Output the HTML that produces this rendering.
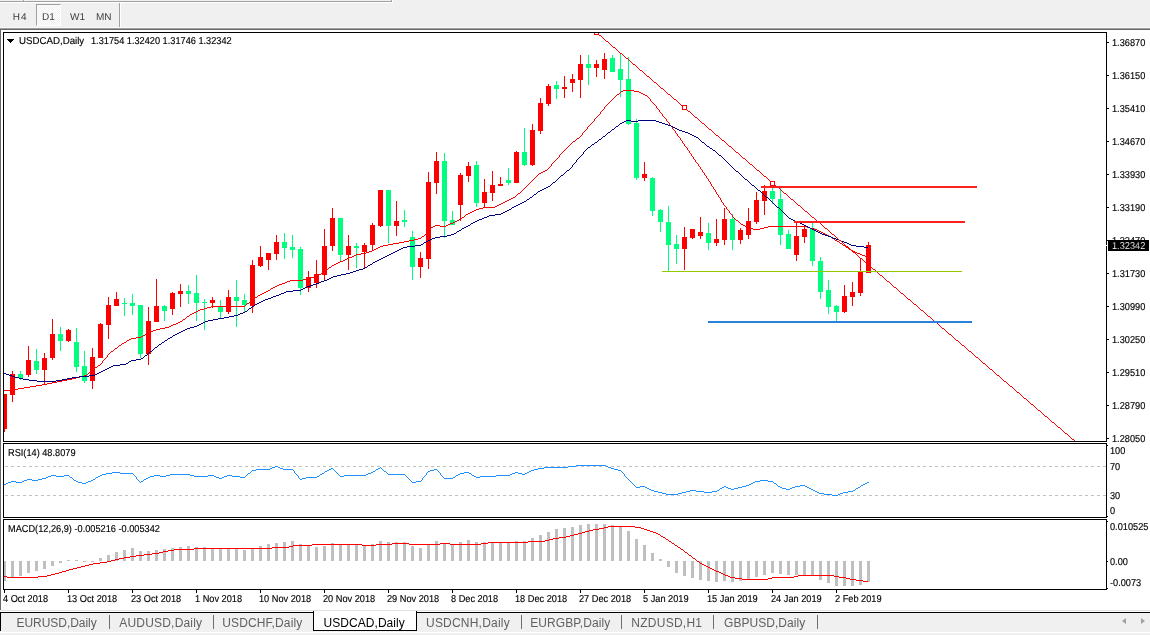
<!DOCTYPE html>
<html><head><meta charset="utf-8"><title>USDCAD,Daily</title>
<style>
html,body{margin:0;padding:0}
body{width:1150px;height:635px;position:relative;overflow:hidden;background:#f0f0f0;font-family:"Liberation Sans",Arial,sans-serif}
.abs{position:absolute}
.t{position:absolute;font-size:10px;line-height:11px;color:#000;white-space:nowrap;transform:scaleX(.92);transform-origin:0 0;-webkit-text-stroke:0.15px #000;text-rendering:geometricPrecision;margin-top:1px}
.tb{position:absolute;top:11px;font-size:10px;line-height:14px;color:#3c3c3c;text-rendering:geometricPrecision}
.tab{position:absolute;top:615px;font-size:12px;line-height:16px;color:#606060;white-space:nowrap}
.sep{position:absolute;top:615px;width:1px;height:14px;background:#6e6e6e}
svg{position:absolute;left:0;top:0}
</style></head><body>
<div class="abs" style="left:0;top:1px;width:391px;height:1px;background:#a0a0a0"></div>
<div class="abs" style="left:0;top:2px;width:392px;height:1px;background:#fff"></div>
<div class="abs" style="left:391px;top:0;width:1px;height:2px;background:#a0a0a0"></div>
<div class="abs" style="left:392px;top:0;width:1px;height:3px;background:#fff"></div>
<div class="abs" style="left:23px;top:0;width:1px;height:1px;background:#a0a0a0"></div>
<div class="abs" style="left:24px;top:0;width:1px;height:1px;background:#fff"></div>
<div class="abs" style="left:36px;top:4px;width:25px;height:22px;background:repeating-conic-gradient(#fff 0 25%,#f0f0f0 0 50%) 0 0/2px 2px;border-left:1px solid #a0a0a0;border-top:1px solid #a0a0a0;border-right:1px solid #fff;border-bottom:1px solid #fff;box-sizing:border-box"></div>
<div class="tb" style="left:12.7px;letter-spacing:1px">H4</div><div class="tb" style="left:42px">D1</div><div class="tb" style="left:70px">W1</div><div class="tb" style="left:96px">MN</div>
<div class="abs" style="left:119px;top:3px;width:1px;height:24px;background:#a0a0a0"></div>
<div class="abs" style="left:120px;top:3px;width:1px;height:24px;background:#fff"></div>
<div class="abs" style="left:0;top:27px;width:1150px;height:1px;background:#f8f8f8"></div>
<div class="abs" style="left:0;top:28px;width:1150px;height:1px;background:#a0a0a0"></div>
<div class="abs" style="left:0;top:29px;width:1150px;height:1px;background:#696969"></div>
<div class="abs" style="left:0;top:30px;width:1150px;height:580px;background:#fff"></div>
<div class="abs" style="left:0;top:29px;width:1px;height:581px;background:#696969"></div>
<div class="abs" style="left:0;top:610px;width:1150px;height:1px;background:#e3e3e3"></div>
<div class="abs" style="left:0;top:611px;width:1150px;height:1px;background:#fff"></div>
<div class="abs" style="left:0;top:612px;width:1150px;height:1px;background:#000"></div>
<div class="abs" style="left:0;top:612px;width:1px;height:19px;background:#000"></div>
<div class="abs" style="left:0;top:632px;width:1150px;height:1px;background:#fff"></div>
<div class="abs" style="left:313px;top:611px;width:104px;height:20px;background:#fff;border:1px solid #000;border-top:none;box-sizing:border-box"></div>
<div class="tab" style="left:323.6px;color:#000;letter-spacing:0.04px">USDCAD,Daily</div>
<div class="tab" style="left:16.5px;letter-spacing:-0.04px">EURUSD,Daily</div><div class="tab" style="left:119.3px;letter-spacing:0.19px">AUDUSD,Daily</div><div class="tab" style="left:222.3px;letter-spacing:0.11px">USDCHF,Daily</div><div class="tab" style="left:426px;letter-spacing:0.21px">USDCNH,Daily</div><div class="tab" style="left:530.3px;letter-spacing:0.07px">EURGBP,Daily</div><div class="tab" style="left:631.3px;letter-spacing:0.25px">NZDUSD,H1</div><div class="tab" style="left:724px;letter-spacing:0.05px">GBPUSD,Daily</div><div class="sep" style="left:109px"></div><div class="sep" style="left:213px"></div><div class="sep" style="left:521px"></div><div class="sep" style="left:621px"></div><div class="sep" style="left:713px"></div><div class="sep" style="left:817px"></div>
<div class="abs" style="left:1122px;top:618px;width:0;height:0;border-top:3px solid transparent;border-bottom:3px solid transparent;border-right:4px solid #a0a0a0"></div>
<div class="abs" style="left:1141px;top:618px;width:0;height:0;border-top:3px solid transparent;border-bottom:3px solid transparent;border-left:4px solid #a0a0a0"></div>
<svg width="1150" height="635" viewBox="0 0 1150 635">
<g stroke="#c0c0c0" stroke-width="1" stroke-dasharray="3 3" shape-rendering="crispEdges"><line x1="5" y1="466.5" x2="1106" y2="466.5"/><line x1="5" y1="495.5" x2="1106" y2="495.5"/></g>
<g fill="#c0c0c0" shape-rendering="crispEdges" clip-path="url(#cp)"><rect x="3" y="561" width="3" height="20"/><rect x="11" y="561" width="3" height="16"/><rect x="19" y="561" width="3" height="15"/><rect x="27" y="561" width="3" height="12"/><rect x="35" y="561" width="3" height="10"/><rect x="43" y="561" width="3" height="8"/><rect x="51" y="561" width="3" height="5"/><rect x="59" y="561" width="3" height="2"/><rect x="67" y="560" width="3" height="1"/><rect x="75" y="560" width="3" height="1"/><rect x="83" y="561" width="3" height="1"/><rect x="91" y="561" width="3" height="1"/><rect x="99" y="558" width="3" height="3"/><rect x="107" y="555" width="3" height="6"/><rect x="115" y="552" width="3" height="9"/><rect x="123" y="550" width="3" height="11"/><rect x="131" y="548" width="3" height="13"/><rect x="139" y="551" width="3" height="10"/><rect x="147" y="551" width="3" height="10"/><rect x="155" y="550" width="3" height="11"/><rect x="163" y="549" width="3" height="12"/><rect x="171" y="548" width="3" height="13"/><rect x="179" y="547" width="3" height="14"/><rect x="187" y="546" width="3" height="15"/><rect x="195" y="547" width="3" height="14"/><rect x="203" y="547" width="3" height="14"/><rect x="211" y="548" width="3" height="13"/><rect x="219" y="549" width="3" height="12"/><rect x="227" y="549" width="3" height="12"/><rect x="235" y="548" width="3" height="13"/><rect x="243" y="550" width="3" height="11"/><rect x="251" y="548" width="3" height="13"/><rect x="259" y="546" width="3" height="15"/><rect x="267" y="544" width="3" height="17"/><rect x="275" y="543" width="3" height="18"/><rect x="283" y="542" width="3" height="19"/><rect x="291" y="541" width="3" height="20"/><rect x="299" y="544" width="3" height="17"/><rect x="307" y="545" width="3" height="16"/><rect x="315" y="547" width="3" height="14"/><rect x="323" y="546" width="3" height="15"/><rect x="331" y="543" width="3" height="18"/><rect x="339" y="544" width="3" height="17"/><rect x="347" y="544" width="3" height="17"/><rect x="355" y="544" width="3" height="17"/><rect x="363" y="545" width="3" height="16"/><rect x="371" y="544" width="3" height="17"/><rect x="379" y="541" width="3" height="20"/><rect x="387" y="542" width="3" height="19"/><rect x="395" y="542" width="3" height="19"/><rect x="403" y="542" width="3" height="19"/><rect x="411" y="546" width="3" height="15"/><rect x="419" y="548" width="3" height="13"/><rect x="427" y="545" width="3" height="16"/><rect x="435" y="541" width="3" height="20"/><rect x="443" y="543" width="3" height="18"/><rect x="451" y="545" width="3" height="16"/><rect x="459" y="542" width="3" height="19"/><rect x="467" y="540" width="3" height="21"/><rect x="475" y="542" width="3" height="19"/><rect x="483" y="542" width="3" height="19"/><rect x="491" y="542" width="3" height="19"/><rect x="499" y="542" width="3" height="19"/><rect x="507" y="542" width="3" height="19"/><rect x="515" y="541" width="3" height="20"/><rect x="523" y="541" width="3" height="20"/><rect x="531" y="538" width="3" height="23"/><rect x="539" y="535" width="3" height="26"/><rect x="547" y="532" width="3" height="29"/><rect x="555" y="529" width="3" height="32"/><rect x="563" y="528" width="3" height="33"/><rect x="571" y="527" width="3" height="34"/><rect x="579" y="525" width="3" height="36"/><rect x="587" y="524" width="3" height="37"/><rect x="595" y="524" width="3" height="37"/><rect x="603" y="524" width="3" height="37"/><rect x="611" y="525" width="3" height="36"/><rect x="619" y="526" width="3" height="35"/><rect x="627" y="531" width="3" height="30"/><rect x="635" y="539" width="3" height="22"/><rect x="643" y="545" width="3" height="16"/><rect x="651" y="553" width="3" height="8"/><rect x="659" y="559" width="3" height="2"/><rect x="667" y="561" width="3" height="6"/><rect x="675" y="561" width="3" height="12"/><rect x="683" y="561" width="3" height="15"/><rect x="691" y="561" width="3" height="17"/><rect x="699" y="561" width="3" height="19"/><rect x="707" y="561" width="3" height="20"/><rect x="715" y="561" width="3" height="21"/><rect x="723" y="561" width="3" height="20"/><rect x="731" y="561" width="3" height="21"/><rect x="739" y="561" width="3" height="20"/><rect x="747" y="561" width="3" height="18"/><rect x="755" y="561" width="3" height="16"/><rect x="763" y="561" width="3" height="14"/><rect x="771" y="561" width="3" height="12"/><rect x="779" y="561" width="3" height="13"/><rect x="787" y="561" width="3" height="14"/><rect x="795" y="561" width="3" height="14"/><rect x="803" y="561" width="3" height="14"/><rect x="811" y="561" width="3" height="15"/><rect x="819" y="561" width="3" height="19"/><rect x="827" y="561" width="3" height="22"/><rect x="835" y="561" width="3" height="25"/><rect x="843" y="561" width="3" height="25"/><rect x="851" y="561" width="3" height="25"/><rect x="859" y="561" width="3" height="24"/><rect x="867" y="561" width="3" height="21"/></g>
<defs><clipPath id="cp"><rect x="4" y="33" width="1102" height="556"/></clipPath></defs>
<g fill="#00ff7f" shape-rendering="crispEdges" clip-path="url(#cp)"><rect x="20" y="371" width="1" height="9"/><rect x="18" y="374" width="5" height="4"/><rect x="36" y="349" width="1" height="25"/><rect x="34" y="361" width="5" height="9"/><rect x="60" y="327" width="1" height="24"/><rect x="58" y="334" width="5" height="7"/><rect x="76" y="328" width="1" height="44"/><rect x="74" y="342" width="5" height="25"/><rect x="84" y="351" width="1" height="32"/><rect x="82" y="366" width="5" height="15"/><rect x="124" y="298" width="1" height="18"/><rect x="122" y="303" width="5" height="1"/><rect x="132" y="294" width="1" height="21"/><rect x="130" y="303" width="5" height="3"/><rect x="140" y="305" width="1" height="53"/><rect x="138" y="305" width="5" height="49"/><rect x="164" y="305" width="1" height="16"/><rect x="162" y="306" width="5" height="5"/><rect x="188" y="285" width="1" height="19"/><rect x="186" y="291" width="5" height="3"/><rect x="196" y="275" width="1" height="46"/><rect x="194" y="293" width="5" height="10"/><rect x="204" y="299" width="1" height="31"/><rect x="202" y="302" width="5" height="1"/><rect x="220" y="300" width="1" height="19"/><rect x="218" y="307" width="5" height="5"/><rect x="236" y="280" width="1" height="47"/><rect x="234" y="297" width="5" height="4"/><rect x="244" y="294" width="1" height="18"/><rect x="242" y="300" width="5" height="5"/><rect x="284" y="233" width="1" height="26"/><rect x="282" y="242" width="5" height="6"/><rect x="292" y="235" width="1" height="23"/><rect x="290" y="247" width="5" height="3"/><rect x="300" y="247" width="1" height="48"/><rect x="298" y="249" width="5" height="39"/><rect x="340" y="218" width="1" height="43"/><rect x="338" y="218" width="5" height="37"/><rect x="356" y="243" width="1" height="25"/><rect x="354" y="246" width="5" height="2"/><rect x="388" y="190" width="1" height="53"/><rect x="386" y="190" width="5" height="36"/><rect x="404" y="210" width="1" height="17"/><rect x="402" y="220" width="5" height="2"/><rect x="412" y="231" width="1" height="49"/><rect x="410" y="237" width="5" height="30"/><rect x="444" y="153" width="1" height="85"/><rect x="442" y="161" width="5" height="60"/><rect x="452" y="211" width="1" height="14"/><rect x="450" y="220" width="5" height="5"/><rect x="476" y="161" width="1" height="46"/><rect x="474" y="165" width="5" height="38"/><rect x="508" y="168" width="1" height="17"/><rect x="506" y="180" width="5" height="3"/><rect x="524" y="128" width="1" height="38"/><rect x="522" y="152" width="5" height="13"/><rect x="556" y="81" width="1" height="18"/><rect x="554" y="85" width="5" height="4"/><rect x="588" y="55" width="1" height="30"/><rect x="586" y="64" width="5" height="4"/><rect x="612" y="55" width="1" height="17"/><rect x="610" y="58" width="5" height="14"/><rect x="620" y="54" width="1" height="43"/><rect x="618" y="69" width="5" height="11"/><rect x="628" y="57" width="1" height="68"/><rect x="626" y="79" width="5" height="45"/><rect x="636" y="119" width="1" height="61"/><rect x="634" y="123" width="5" height="55"/><rect x="652" y="177" width="1" height="39"/><rect x="650" y="178" width="5" height="33"/><rect x="660" y="209" width="1" height="23"/><rect x="658" y="210" width="5" height="12"/><rect x="668" y="206" width="1" height="65"/><rect x="666" y="222" width="5" height="23"/><rect x="676" y="235" width="1" height="29"/><rect x="674" y="244" width="5" height="5"/><rect x="708" y="223" width="1" height="27"/><rect x="706" y="233" width="5" height="10"/><rect x="732" y="214" width="1" height="36"/><rect x="730" y="219" width="5" height="21"/><rect x="772" y="186" width="1" height="18"/><rect x="770" y="191" width="5" height="8"/><rect x="780" y="188" width="1" height="57"/><rect x="778" y="199" width="5" height="36"/><rect x="788" y="230" width="1" height="19"/><rect x="786" y="234" width="5" height="15"/><rect x="812" y="223" width="1" height="43"/><rect x="810" y="228" width="5" height="33"/><rect x="820" y="257" width="1" height="42"/><rect x="818" y="261" width="5" height="31"/><rect x="828" y="280" width="1" height="34"/><rect x="826" y="290" width="5" height="17"/><rect x="836" y="305" width="1" height="16"/><rect x="834" y="306" width="5" height="6"/></g>
<g fill="#ff0000" shape-rendering="crispEdges" clip-path="url(#cp)"><rect x="4" y="394" width="1" height="38"/><rect x="2" y="394" width="5" height="35"/><rect x="12" y="371" width="1" height="31"/><rect x="10" y="374" width="5" height="21"/><rect x="28" y="346" width="1" height="31"/><rect x="26" y="360" width="5" height="15"/><rect x="44" y="353" width="1" height="31"/><rect x="42" y="358" width="5" height="12"/><rect x="52" y="319" width="1" height="41"/><rect x="50" y="334" width="5" height="24"/><rect x="68" y="329" width="1" height="13"/><rect x="66" y="330" width="5" height="11"/><rect x="92" y="348" width="1" height="41"/><rect x="90" y="357" width="5" height="24"/><rect x="100" y="323" width="1" height="35"/><rect x="98" y="324" width="5" height="34"/><rect x="108" y="297" width="1" height="42"/><rect x="106" y="305" width="5" height="20"/><rect x="116" y="292" width="1" height="14"/><rect x="114" y="299" width="5" height="7"/><rect x="148" y="307" width="1" height="58"/><rect x="146" y="321" width="5" height="33"/><rect x="156" y="279" width="1" height="43"/><rect x="154" y="306" width="5" height="16"/><rect x="172" y="292" width="1" height="23"/><rect x="170" y="293" width="5" height="16"/><rect x="180" y="284" width="1" height="23"/><rect x="178" y="291" width="5" height="3"/><rect x="212" y="297" width="1" height="11"/><rect x="210" y="300" width="5" height="3"/><rect x="228" y="290" width="1" height="24"/><rect x="226" y="297" width="5" height="15"/><rect x="252" y="260" width="1" height="53"/><rect x="250" y="265" width="5" height="41"/><rect x="260" y="246" width="1" height="21"/><rect x="258" y="257" width="5" height="9"/><rect x="268" y="253" width="1" height="17"/><rect x="266" y="253" width="5" height="7"/><rect x="276" y="235" width="1" height="25"/><rect x="274" y="242" width="5" height="12"/><rect x="308" y="271" width="1" height="21"/><rect x="306" y="277" width="5" height="11"/><rect x="316" y="260" width="1" height="28"/><rect x="314" y="274" width="5" height="9"/><rect x="324" y="229" width="1" height="52"/><rect x="322" y="246" width="5" height="29"/><rect x="332" y="208" width="1" height="43"/><rect x="330" y="218" width="5" height="28"/><rect x="348" y="235" width="1" height="35"/><rect x="346" y="246" width="5" height="9"/><rect x="364" y="243" width="1" height="25"/><rect x="362" y="245" width="5" height="7"/><rect x="372" y="223" width="1" height="27"/><rect x="370" y="225" width="5" height="20"/><rect x="380" y="190" width="1" height="37"/><rect x="378" y="190" width="5" height="36"/><rect x="396" y="201" width="1" height="35"/><rect x="394" y="221" width="5" height="5"/><rect x="420" y="252" width="1" height="26"/><rect x="418" y="258" width="5" height="9"/><rect x="428" y="172" width="1" height="97"/><rect x="426" y="182" width="5" height="77"/><rect x="436" y="152" width="1" height="42"/><rect x="434" y="161" width="5" height="22"/><rect x="460" y="173" width="1" height="48"/><rect x="458" y="175" width="5" height="30"/><rect x="468" y="162" width="1" height="20"/><rect x="466" y="166" width="5" height="10"/><rect x="484" y="179" width="1" height="28"/><rect x="482" y="192" width="5" height="11"/><rect x="492" y="171" width="1" height="30"/><rect x="490" y="185" width="5" height="8"/><rect x="500" y="177" width="1" height="9"/><rect x="498" y="184" width="5" height="2"/><rect x="516" y="151" width="1" height="32"/><rect x="514" y="152" width="5" height="31"/><rect x="532" y="124" width="1" height="42"/><rect x="530" y="130" width="5" height="35"/><rect x="540" y="98" width="1" height="36"/><rect x="538" y="103" width="5" height="28"/><rect x="548" y="84" width="1" height="22"/><rect x="546" y="86" width="5" height="18"/><rect x="564" y="76" width="1" height="22"/><rect x="562" y="87" width="5" height="2"/><rect x="572" y="74" width="1" height="18"/><rect x="570" y="79" width="5" height="4"/><rect x="580" y="55" width="1" height="43"/><rect x="578" y="64" width="5" height="16"/><rect x="596" y="60" width="1" height="17"/><rect x="594" y="64" width="5" height="4"/><rect x="604" y="53" width="1" height="26"/><rect x="602" y="59" width="5" height="11"/><rect x="644" y="162" width="1" height="19"/><rect x="642" y="174" width="5" height="4"/><rect x="684" y="227" width="1" height="43"/><rect x="682" y="237" width="5" height="12"/><rect x="692" y="229" width="1" height="10"/><rect x="690" y="229" width="5" height="9"/><rect x="700" y="217" width="1" height="22"/><rect x="698" y="232" width="5" height="4"/><rect x="716" y="219" width="1" height="27"/><rect x="714" y="239" width="5" height="4"/><rect x="724" y="208" width="1" height="37"/><rect x="722" y="219" width="5" height="21"/><rect x="740" y="228" width="1" height="16"/><rect x="738" y="230" width="5" height="10"/><rect x="748" y="208" width="1" height="31"/><rect x="746" y="221" width="5" height="14"/><rect x="756" y="192" width="1" height="32"/><rect x="754" y="200" width="5" height="22"/><rect x="764" y="185" width="1" height="30"/><rect x="762" y="191" width="5" height="10"/><rect x="796" y="223" width="1" height="38"/><rect x="794" y="236" width="5" height="19"/><rect x="804" y="226" width="1" height="17"/><rect x="802" y="229" width="5" height="8"/><rect x="844" y="285" width="1" height="28"/><rect x="842" y="296" width="5" height="16"/><rect x="852" y="282" width="1" height="24"/><rect x="850" y="292" width="5" height="5"/><rect x="860" y="258" width="1" height="38"/><rect x="858" y="271" width="5" height="22"/><rect x="868" y="242" width="1" height="31"/><rect x="866" y="245" width="5" height="28"/></g>
<path d="M623 90.5h11M621 91.5h2M634 91.5h5M620 92.5h1M639 92.5h2M619 93.5h1M641 93.5h2M617 94.5h2M643 94.5h2M616 95.5h1M645 95.5h2M615 96.5h1M647 96.5h1M614 97.5h1M648 97.5h1M613 98.5h1M649 98.5h1M612 99.5h1M650 99.5h1M611 100.5h1M650 100.5h1M610 101.5h1M651 101.5h1M609 102.5h1M652 102.5h1M608 103.5h1M653 103.5h1M607 104.5h1M654 104.5h1M606 105.5h1M655 105.5h1M605 106.5h1M656 106.5h1M604 107.5h1M656 107.5h1M604 108.5h1M657 108.5h1M603 109.5h1M658 109.5h1M602 110.5h1M659 110.5h1M601 111.5h1M659 111.5h1M600 112.5h1M660 112.5h1M600 113.5h1M661 113.5h1M599 114.5h1M662 114.5h1M598 115.5h1M662 115.5h1M597 116.5h1M663 116.5h1M596 117.5h1M664 117.5h1M595 118.5h1M665 118.5h1M594 119.5h1M666 119.5h1M594 120.5h1M666 120.5h1M593 121.5h1M667 121.5h1M592 122.5h1M668 122.5h1M591 123.5h1M669 123.5h1M590 124.5h1M669 124.5h1M589 125.5h1M670 125.5h1M588 126.5h1M671 126.5h1M587 127.5h1M672 127.5h1M587 128.5h1M672 128.5h1M586 129.5h1M673 129.5h1M585 130.5h1M674 130.5h1M584 131.5h1M675 131.5h1M583 132.5h1M675 132.5h1M582 133.5h1M676 133.5h1M582 134.5h1M677 134.5h1M581 135.5h1M677 135.5h1M580 136.5h1M678 136.5h1M579 137.5h1M679 137.5h1M577 138.5h2M680 138.5h1M576 139.5h1M680 139.5h1M575 140.5h1M681 140.5h1M573 141.5h2M682 141.5h1M572 142.5h1M682 142.5h1M571 143.5h1M683 143.5h1M570 144.5h1M684 144.5h1M569 145.5h1M684 145.5h1M568 146.5h1M685 146.5h1M567 147.5h1M686 147.5h1M566 148.5h1M687 148.5h1M565 149.5h1M687 149.5h1M564 150.5h1M688 150.5h1M563 151.5h1M689 151.5h1M562 152.5h1M689 152.5h1M561 153.5h1M690 153.5h1M560 154.5h1M691 154.5h1M559 155.5h1M691 155.5h1M559 156.5h1M692 156.5h1M558 157.5h1M693 157.5h1M557 158.5h1M693 158.5h1M556 159.5h1M694 159.5h1M555 160.5h1M695 160.5h1M554 161.5h1M695 161.5h1M553 162.5h1M696 162.5h1M552 163.5h1M697 163.5h1M551 164.5h1M698 164.5h1M551 165.5h1M698 165.5h1M550 166.5h1M699 166.5h1M549 167.5h1M700 167.5h1M548 168.5h1M700 168.5h1M547 169.5h1M701 169.5h1M545 170.5h2M702 170.5h1M543 171.5h2M702 171.5h1M541 172.5h2M703 172.5h1M539 173.5h2M704 173.5h1M538 174.5h1M704 174.5h1M537 175.5h1M705 175.5h1M536 176.5h1M706 176.5h1M535 177.5h1M706 177.5h1M534 178.5h1M707 178.5h1M533 179.5h1M708 179.5h1M532 180.5h1M708 180.5h1M531 181.5h1M709 181.5h1M530 182.5h1M710 182.5h1M529 183.5h1M710 183.5h1M528 184.5h1M711 184.5h1M527 185.5h1M711 185.5h1M526 186.5h1M712 186.5h1M525 187.5h1M713 187.5h1M524 188.5h1M713 188.5h1M523 189.5h1M714 189.5h1M522 190.5h1M715 190.5h1M521 191.5h1M715 191.5h1M520 192.5h1M716 192.5h1M518 193.5h2M716 193.5h1M517 194.5h1M717 194.5h1M516 195.5h1M718 195.5h1M515 196.5h1M718 196.5h1M513 197.5h2M719 197.5h1M511 198.5h2M720 198.5h1M509 199.5h2M720 199.5h1M507 200.5h2M721 200.5h1M505 201.5h2M721 201.5h1M503 202.5h2M722 202.5h1M501 203.5h2M723 203.5h1M499 204.5h2M723 204.5h1M497 205.5h2M724 205.5h1M495 206.5h2M725 206.5h1M483 207.5h12M726 207.5h1M479 208.5h4M726 208.5h1M476 209.5h3M727 209.5h1M474 210.5h2M728 210.5h1M472 211.5h2M729 211.5h1M470 212.5h2M729 212.5h1M468 213.5h2M730 213.5h1M466 214.5h2M731 214.5h1M465 215.5h1M732 215.5h1M464 216.5h1M732 216.5h1M462 217.5h2M733 217.5h1M461 218.5h1M734 218.5h1M459 219.5h2M735 219.5h1M457 220.5h2M736 220.5h2M455 221.5h2M738 221.5h1M453 222.5h2M739 222.5h1M450 223.5h3M740 223.5h1M448 224.5h2M741 224.5h2M435 225.5h5M446 225.5h2M743 225.5h2M433 226.5h2M440 226.5h6M745 226.5h2M768 226.5h39M431 227.5h2M747 227.5h2M764 227.5h4M807 227.5h3M430 228.5h1M749 228.5h4M760 228.5h4M810 228.5h4M429 229.5h1M753 229.5h7M814 229.5h3M428 230.5h1M817 230.5h2M428 231.5h1M819 231.5h2M427 232.5h1M821 232.5h2M426 233.5h1M823 233.5h2M425 234.5h1M825 234.5h2M424 235.5h1M827 235.5h2M422 236.5h2M829 236.5h2M421 237.5h1M831 237.5h1M418 238.5h3M832 238.5h2M414 239.5h4M834 239.5h1M409 240.5h5M835 240.5h2M404 241.5h5M837 241.5h2M399 242.5h5M839 242.5h1M393 243.5h6M840 243.5h2M388 244.5h5M842 244.5h1M383 245.5h5M843 245.5h2M380 246.5h3M845 246.5h1M378 247.5h2M846 247.5h2M376 248.5h2M848 248.5h1M374 249.5h2M849 249.5h2M372 250.5h2M851 250.5h2M369 251.5h3M853 251.5h2M366 252.5h3M855 252.5h2M361 253.5h5M857 253.5h3M356 254.5h5M860 254.5h2M354 255.5h2M862 255.5h3M352 256.5h2M865 256.5h2M349 257.5h3M867 257.5h2M347 258.5h2M345 259.5h2M343 260.5h2M340 261.5h3M338 262.5h2M336 263.5h2M334 264.5h2M332 265.5h2M331 266.5h1M329 267.5h2M328 268.5h1M327 269.5h1M325 270.5h2M324 271.5h1M323 272.5h1M321 273.5h2M319 274.5h2M316 275.5h3M314 276.5h2M311 277.5h3M307 278.5h4M303 279.5h4M290 280.5h13M287 281.5h3M285 282.5h2M282 283.5h3M279 284.5h3M277 285.5h2M275 286.5h2M273 287.5h2M271 288.5h2M270 289.5h1M268 290.5h2M266 291.5h2M264 292.5h2M262 293.5h2M260 294.5h2M258 295.5h2M257 296.5h1M255 297.5h2M254 298.5h1M253 299.5h1M251 300.5h2M250 301.5h1M249 302.5h1M247 303.5h2M246 304.5h1M245 305.5h1M211 306.5h34M207 307.5h4M204 308.5h3M200 309.5h4M198 310.5h2M196 311.5h2M194 312.5h2M192 313.5h2M190 314.5h2M189 315.5h1M187 316.5h2M186 317.5h1M185 318.5h1M183 319.5h2M182 320.5h1M180 321.5h2M178 322.5h2M176 323.5h2M173 324.5h3M171 325.5h2M169 326.5h2M165 327.5h4M160 328.5h5M156 329.5h4M153 330.5h3M151 331.5h2M149 332.5h2M147 333.5h2M145 334.5h2M143 335.5h2M141 336.5h2M136 337.5h5M131 338.5h5M129 339.5h2M127 340.5h2M126 341.5h1M124 342.5h2M122 343.5h2M121 344.5h1M119 345.5h2M118 346.5h1M117 347.5h1M115 348.5h2M114 349.5h1M113 350.5h1M111 351.5h2M110 352.5h1M109 353.5h1M108 354.5h1M107 355.5h1M107 356.5h1M106 357.5h1M105 358.5h1M104 359.5h1M103 360.5h1M102 361.5h1M102 362.5h1M101 363.5h1M100 364.5h1M98 365.5h2M97 366.5h1M95 367.5h2M94 368.5h1M93 369.5h1M92 370.5h1M90 371.5h2M89 372.5h1M88 373.5h1M87 374.5h1M84 375.5h3M80 376.5h4M76 377.5h4M72 378.5h4M67 379.5h5M62 380.5h5M57 381.5h5M52 382.5h5M47 383.5h5M42 384.5h5M36 385.5h6M30 386.5h6M24 387.5h6M18 388.5h6M13 389.5h5M4 390.5h9" stroke="#ff0000" stroke-width="1" fill="none" shape-rendering="crispEdges"/>
<path d="M626 120.5h5M638 120.5h18M624 121.5h2M631 121.5h7M656 121.5h3M622 122.5h2M659 122.5h3M620 123.5h2M662 123.5h3M619 124.5h1M665 124.5h3M618 125.5h1M668 125.5h3M616 126.5h2M671 126.5h2M615 127.5h1M673 127.5h2M614 128.5h1M675 128.5h2M612 129.5h2M677 129.5h2M611 130.5h1M679 130.5h3M610 131.5h1M682 131.5h3M608 132.5h2M685 132.5h3M607 133.5h1M688 133.5h2M606 134.5h1M690 134.5h2M605 135.5h1M692 135.5h2M603 136.5h2M694 136.5h2M602 137.5h1M696 137.5h2M601 138.5h1M698 138.5h1M599 139.5h2M699 139.5h1M598 140.5h1M700 140.5h1M597 141.5h1M701 141.5h1M595 142.5h2M702 142.5h2M594 143.5h1M704 143.5h1M592 144.5h2M705 144.5h1M591 145.5h1M706 145.5h1M590 146.5h1M707 146.5h2M588 147.5h2M709 147.5h1M587 148.5h1M710 148.5h2M586 149.5h1M712 149.5h1M585 150.5h1M713 150.5h2M584 151.5h1M715 151.5h1M583 152.5h1M716 152.5h1M583 153.5h1M717 153.5h1M582 154.5h1M718 154.5h1M581 155.5h1M719 155.5h2M580 156.5h1M721 156.5h1M579 157.5h1M722 157.5h1M578 158.5h1M723 158.5h1M577 159.5h1M724 159.5h1M576 160.5h1M725 160.5h1M576 161.5h1M726 161.5h1M575 162.5h1M727 162.5h1M574 163.5h1M728 163.5h1M573 164.5h1M729 164.5h1M572 165.5h1M730 165.5h1M572 166.5h1M731 166.5h1M571 167.5h1M732 167.5h1M570 168.5h1M733 168.5h1M569 169.5h1M734 169.5h1M567 170.5h2M735 170.5h1M566 171.5h1M736 171.5h2M565 172.5h1M738 172.5h1M564 173.5h1M739 173.5h1M563 174.5h1M740 174.5h1M561 175.5h2M741 175.5h1M560 176.5h1M742 176.5h1M559 177.5h1M743 177.5h1M558 178.5h1M744 178.5h1M557 179.5h1M745 179.5h2M556 180.5h1M747 180.5h1M555 181.5h1M748 181.5h1M553 182.5h2M749 182.5h1M552 183.5h1M750 183.5h1M551 184.5h1M751 184.5h1M550 185.5h1M752 185.5h2M548 186.5h2M754 186.5h1M546 187.5h2M755 187.5h1M544 188.5h2M756 188.5h1M542 189.5h2M757 189.5h1M540 190.5h2M758 190.5h2M538 191.5h2M760 191.5h1M537 192.5h1M761 192.5h1M536 193.5h1M762 193.5h1M534 194.5h2M763 194.5h1M533 195.5h1M764 195.5h1M532 196.5h1M765 196.5h1M530 197.5h2M766 197.5h2M529 198.5h1M768 198.5h1M527 199.5h2M769 199.5h1M526 200.5h1M770 200.5h1M524 201.5h2M771 201.5h1M522 202.5h2M772 202.5h1M520 203.5h2M773 203.5h1M518 204.5h2M774 204.5h1M516 205.5h2M775 205.5h1M514 206.5h2M776 206.5h1M512 207.5h2M777 207.5h2M511 208.5h1M779 208.5h1M509 209.5h2M780 209.5h1M507 210.5h2M781 210.5h1M505 211.5h2M782 211.5h1M503 212.5h2M783 212.5h1M501 213.5h2M784 213.5h1M495 214.5h6M785 214.5h1M489 215.5h6M786 215.5h1M487 216.5h2M787 216.5h1M484 217.5h3M788 217.5h1M482 218.5h2M789 218.5h2M479 219.5h3M791 219.5h2M477 220.5h2M793 220.5h2M475 221.5h2M795 221.5h2M473 222.5h2M797 222.5h3M471 223.5h2M800 223.5h2M470 224.5h1M802 224.5h2M468 225.5h2M804 225.5h2M466 226.5h2M806 226.5h2M464 227.5h2M808 227.5h2M462 228.5h2M810 228.5h2M461 229.5h1M812 229.5h2M459 230.5h2M814 230.5h2M457 231.5h2M816 231.5h2M456 232.5h1M818 232.5h2M454 233.5h2M820 233.5h2M451 234.5h3M822 234.5h3M447 235.5h4M825 235.5h3M440 236.5h7M828 236.5h3M435 237.5h5M831 237.5h2M432 238.5h3M833 238.5h3M430 239.5h2M836 239.5h3M428 240.5h2M839 240.5h2M426 241.5h2M841 241.5h3M424 242.5h2M844 242.5h3M423 243.5h1M847 243.5h2M421 244.5h2M849 244.5h2M415 245.5h6M851 245.5h5M407 246.5h8M856 246.5h8M403 247.5h4M864 247.5h4M401 248.5h2M399 249.5h2M397 250.5h2M395 251.5h2M393 252.5h2M391 253.5h2M389 254.5h2M387 255.5h2M385 256.5h2M383 257.5h2M381 258.5h2M379 259.5h2M377 260.5h2M375 261.5h2M373 262.5h2M372 263.5h1M370 264.5h2M368 265.5h2M367 266.5h1M365 267.5h2M363 268.5h2M359 269.5h4M356 270.5h3M353 271.5h3M350 272.5h3M346 273.5h4M341 274.5h5M337 275.5h4M333 276.5h4M331 277.5h2M329 278.5h2M327 279.5h2M324 280.5h3M321 281.5h3M319 282.5h2M316 283.5h3M313 284.5h3M310 285.5h3M307 286.5h3M305 287.5h2M303 288.5h2M301 289.5h2M293 290.5h8M286 291.5h7M284 292.5h2M281 293.5h3M279 294.5h2M276 295.5h3M273 296.5h3M271 297.5h2M268 298.5h3M265 299.5h3M263 300.5h2M261 301.5h2M259 302.5h2M257 303.5h2M255 304.5h2M254 305.5h1M252 306.5h2M251 307.5h1M249 308.5h2M248 309.5h1M247 310.5h1M245 311.5h2M243 312.5h2M240 313.5h3M238 314.5h2M234 315.5h4M229 316.5h5M224 317.5h5M218 318.5h6M213 319.5h5M208 320.5h5M205 321.5h3M203 322.5h2M201 323.5h2M199 324.5h2M197 325.5h2M194 326.5h3M190 327.5h4M187 328.5h3M185 329.5h2M183 330.5h2M181 331.5h2M179 332.5h2M177 333.5h2M175 334.5h2M173 335.5h2M172 336.5h1M170 337.5h2M168 338.5h2M167 339.5h1M165 340.5h2M164 341.5h1M162 342.5h2M161 343.5h1M159 344.5h2M158 345.5h1M157 346.5h1M155 347.5h2M154 348.5h1M153 349.5h1M152 350.5h1M150 351.5h2M149 352.5h1M148 353.5h1M147 354.5h1M145 355.5h2M144 356.5h1M143 357.5h1M141 358.5h2M136 359.5h5M131 360.5h5M129 361.5h2M128 362.5h1M126 363.5h2M120 364.5h6M113 365.5h7M111 366.5h2M109 367.5h2M107 368.5h2M105 369.5h2M103 370.5h2M101 371.5h2M99 372.5h2M4 373.5h2M97 373.5h2M6 374.5h3M95 374.5h2M9 375.5h3M89 375.5h6M12 376.5h3M79 376.5h10M15 377.5h4M72 377.5h7M19 378.5h4M67 378.5h5M23 379.5h6M62 379.5h5M29 380.5h8M56 380.5h6M37 381.5h19" stroke="#000080" stroke-width="1" fill="none" shape-rendering="crispEdges"/>
<path d="M597 33.5h1M598 34.5h1M599 35.5h2M601 36.5h1M602 37.5h1M603 38.5h1M604 39.5h1M605 40.5h1M606 41.5h2M608 42.5h1M609 43.5h1M610 44.5h1M611 45.5h1M612 46.5h1M613 47.5h2M615 48.5h1M616 49.5h1M617 50.5h1M618 51.5h1M619 52.5h1M620 53.5h2M622 54.5h1M623 55.5h1M624 56.5h1M625 57.5h1M626 58.5h2M628 59.5h1M629 60.5h1M630 61.5h1M631 62.5h1M632 63.5h1M633 64.5h2M635 65.5h1M636 66.5h1M637 67.5h1M638 68.5h1M639 69.5h1M640 70.5h2M642 71.5h1M643 72.5h1M644 73.5h1M645 74.5h1M646 75.5h1M647 76.5h2M649 77.5h1M650 78.5h1M651 79.5h1M652 80.5h1M653 81.5h1M654 82.5h2M656 83.5h1M657 84.5h1M658 85.5h1M659 86.5h1M660 87.5h1M661 88.5h2M663 89.5h1M664 90.5h1M665 91.5h1M666 92.5h1M667 93.5h1M668 94.5h2M670 95.5h1M671 96.5h1M672 97.5h1M673 98.5h1M674 99.5h2M676 100.5h1M677 101.5h1M678 102.5h1M679 103.5h1M680 104.5h1M681 105.5h2M683 106.5h1M684 107.5h1M685 108.5h1M686 109.5h1M687 110.5h1M688 111.5h2M690 112.5h1M691 113.5h1M692 114.5h1M693 115.5h1M694 116.5h1M695 117.5h2M697 118.5h1M698 119.5h1M699 120.5h1M700 121.5h1M701 122.5h1M702 123.5h2M704 124.5h1M705 125.5h1M706 126.5h1M707 127.5h1M708 128.5h1M709 129.5h2M711 130.5h1M712 131.5h1M713 132.5h1M714 133.5h1M715 134.5h1M716 135.5h2M718 136.5h1M719 137.5h1M720 138.5h1M721 139.5h1M722 140.5h2M724 141.5h1M725 142.5h1M726 143.5h1M727 144.5h1M728 145.5h1M729 146.5h2M731 147.5h1M732 148.5h1M733 149.5h1M734 150.5h1M735 151.5h1M736 152.5h2M738 153.5h1M739 154.5h1M740 155.5h1M741 156.5h1M742 157.5h1M743 158.5h2M745 159.5h1M746 160.5h1M747 161.5h1M748 162.5h1M749 163.5h1M750 164.5h2M752 165.5h1M753 166.5h1M754 167.5h1M755 168.5h1M756 169.5h1M757 170.5h2M759 171.5h1M760 172.5h1M761 173.5h1M762 174.5h1M763 175.5h1M764 176.5h2M766 177.5h1M767 178.5h1M768 179.5h1M769 180.5h1M770 181.5h2M772 182.5h1M773 183.5h1M774 184.5h1M775 185.5h1M776 186.5h1M777 187.5h2M779 188.5h1M780 189.5h1M781 190.5h1M782 191.5h1M783 192.5h1M784 193.5h2M786 194.5h1M787 195.5h1M788 196.5h1M789 197.5h1M790 198.5h1M791 199.5h2M793 200.5h1M794 201.5h1M795 202.5h1M796 203.5h1M797 204.5h1M798 205.5h2M800 206.5h1M801 207.5h1M802 208.5h1M803 209.5h1M804 210.5h1M805 211.5h2M807 212.5h1M808 213.5h1M809 214.5h1M810 215.5h1M811 216.5h1M812 217.5h2M814 218.5h1M815 219.5h1M816 220.5h1M817 221.5h1M818 222.5h2M820 223.5h1M821 224.5h1M822 225.5h1M823 226.5h1M824 227.5h1M825 228.5h2M827 229.5h1M828 230.5h1M829 231.5h1M830 232.5h1M831 233.5h1M832 234.5h2M834 235.5h1M835 236.5h1M836 237.5h1M837 238.5h1M838 239.5h1M839 240.5h2M841 241.5h1M842 242.5h1M843 243.5h1M844 244.5h1M845 245.5h1M846 246.5h2M848 247.5h1M849 248.5h1M850 249.5h1M851 250.5h1M852 251.5h1M853 252.5h2M855 253.5h1M856 254.5h1M857 255.5h1M858 256.5h1M859 257.5h1M860 258.5h2M862 259.5h1M863 260.5h1M864 261.5h1M865 262.5h1M866 263.5h2M868 264.5h1M869 265.5h1M870 266.5h1M871 267.5h1M872 268.5h1M873 269.5h2M875 270.5h1M876 271.5h1M877 272.5h1M878 273.5h1M879 274.5h1M880 275.5h2M882 276.5h1M883 277.5h1M884 278.5h1M885 279.5h1M886 280.5h1M887 281.5h2M889 282.5h1M890 283.5h1M891 284.5h1M892 285.5h1M893 286.5h1M894 287.5h2M896 288.5h1M897 289.5h1M898 290.5h1M899 291.5h1M900 292.5h1M901 293.5h2M903 294.5h1M904 295.5h1M905 296.5h1M906 297.5h1M907 298.5h1M908 299.5h2M910 300.5h1M911 301.5h1M912 302.5h1M913 303.5h1M914 304.5h2M916 305.5h1M917 306.5h1M918 307.5h1M919 308.5h1M920 309.5h1M921 310.5h2M923 311.5h1M924 312.5h1M925 313.5h1M926 314.5h1M927 315.5h1M928 316.5h2M930 317.5h1M931 318.5h1M932 319.5h1M933 320.5h1M934 321.5h1M935 322.5h2M937 323.5h1M938 324.5h1M939 325.5h1M940 326.5h1M941 327.5h1M942 328.5h2M944 329.5h1M945 330.5h1M946 331.5h1M947 332.5h1M948 333.5h1M949 334.5h2M951 335.5h1M952 336.5h1M953 337.5h1M954 338.5h1M955 339.5h1M956 340.5h2M958 341.5h1M959 342.5h1M960 343.5h1M961 344.5h1M962 345.5h2M964 346.5h1M965 347.5h1M966 348.5h1M967 349.5h1M968 350.5h1M969 351.5h2M971 352.5h1M972 353.5h1M973 354.5h1M974 355.5h1M975 356.5h1M976 357.5h2M978 358.5h1M979 359.5h1M980 360.5h1M981 361.5h1M982 362.5h1M983 363.5h2M985 364.5h1M986 365.5h1M987 366.5h1M988 367.5h1M989 368.5h1M990 369.5h2M992 370.5h1M993 371.5h1M994 372.5h1M995 373.5h1M996 374.5h1M997 375.5h2M999 376.5h1M1000 377.5h1M1001 378.5h1M1002 379.5h1M1003 380.5h1M1004 381.5h2M1006 382.5h1M1007 383.5h1M1008 384.5h1M1009 385.5h1M1010 386.5h2M1012 387.5h1M1013 388.5h1M1014 389.5h1M1015 390.5h1M1016 391.5h1M1017 392.5h2M1019 393.5h1M1020 394.5h1M1021 395.5h1M1022 396.5h1M1023 397.5h1M1024 398.5h2M1026 399.5h1M1027 400.5h1M1028 401.5h1M1029 402.5h1M1030 403.5h1M1031 404.5h2M1033 405.5h1M1034 406.5h1M1035 407.5h1M1036 408.5h1M1037 409.5h1M1038 410.5h2M1040 411.5h1M1041 412.5h1M1042 413.5h1M1043 414.5h1M1044 415.5h1M1045 416.5h2M1047 417.5h1M1048 418.5h1M1049 419.5h1M1050 420.5h1M1051 421.5h1M1052 422.5h2M1054 423.5h1M1055 424.5h1M1056 425.5h1M1057 426.5h1M1058 427.5h2M1060 428.5h1M1061 429.5h1M1062 430.5h1M1063 431.5h1M1064 432.5h1M1065 433.5h2M1067 434.5h1M1068 435.5h1M1069 436.5h1M1070 437.5h1M1071 438.5h1M1072 439.5h2M1074 440.5h1" stroke="#ff0000" stroke-width="1" fill="none" shape-rendering="crispEdges"/>
<rect x="594.5" y="30.5" width="4" height="4" fill="#fff" stroke="#ff0000" stroke-width="1" shape-rendering="crispEdges" clip-path="url(#cp)"/>
<rect x="682.5" y="105.5" width="4" height="4" fill="#fff" stroke="#ff0000" stroke-width="1" shape-rendering="crispEdges" clip-path="url(#cp)"/>
<rect x="770.5" y="181.5" width="4" height="4" fill="#fff" stroke="#ff0000" stroke-width="1" shape-rendering="crispEdges" clip-path="url(#cp)"/>
<g shape-rendering="crispEdges"><rect x="761" y="186" width="216" height="2" fill="#ff2020"/><rect x="794" y="221" width="171" height="2" fill="#ff2020"/><rect x="662" y="271" width="300" height="1" fill="#96c800"/><rect x="708" y="321" width="264" height="2" fill="#2a82dc"/></g>
<path d="M576 465.5h30M275 466.5h3M568 466.5h8M606 466.5h2M272 467.5h3M278 467.5h2M380 467.5h1M544 467.5h24M608 467.5h3M270 468.5h2M280 468.5h3M331 468.5h2M378 468.5h2M381 468.5h1M538 468.5h6M611 468.5h3M256 469.5h14M283 469.5h10M329 469.5h2M333 469.5h1M376 469.5h2M382 469.5h1M434 469.5h3M534 469.5h4M614 469.5h4M252 470.5h4M293 470.5h1M327 470.5h2M334 470.5h1M375 470.5h1M383 470.5h1M430 470.5h4M437 470.5h1M531 470.5h3M618 470.5h3M251 471.5h1M294 471.5h1M325 471.5h2M335 471.5h1M373 471.5h2M384 471.5h2M428 471.5h2M438 471.5h1M529 471.5h2M621 471.5h1M112 472.5h8M250 472.5h1M294 472.5h1M324 472.5h1M336 472.5h1M371 472.5h2M386 472.5h1M427 472.5h1M439 472.5h1M464 472.5h5M515 472.5h3M527 472.5h2M622 472.5h1M106 473.5h6M120 473.5h13M248 473.5h2M295 473.5h1M322 473.5h2M337 473.5h1M368 473.5h3M387 473.5h1M426 473.5h1M440 473.5h1M460 473.5h4M469 473.5h2M512 473.5h3M518 473.5h4M525 473.5h2M623 473.5h1M102 474.5h4M133 474.5h1M170 474.5h20M247 474.5h1M296 474.5h1M320 474.5h2M338 474.5h1M366 474.5h2M388 474.5h17M426 474.5h1M440 474.5h1M458 474.5h2M471 474.5h1M510 474.5h2M522 474.5h3M624 474.5h1M51 475.5h5M64 475.5h5M100 475.5h2M134 475.5h1M154 475.5h6M166 475.5h4M190 475.5h4M208 475.5h6M227 475.5h5M246 475.5h1M297 475.5h1M319 475.5h1M339 475.5h1M344 475.5h22M405 475.5h1M425 475.5h1M441 475.5h1M456 475.5h2M472 475.5h2M496 475.5h14M624 475.5h1M48 476.5h3M56 476.5h8M69 476.5h1M98 476.5h2M135 476.5h1M150 476.5h4M160 476.5h6M194 476.5h14M214 476.5h2M224 476.5h3M232 476.5h8M245 476.5h1M298 476.5h1M317 476.5h2M340 476.5h4M406 476.5h1M424 476.5h1M442 476.5h1M455 476.5h1M474 476.5h2M480 476.5h16M625 476.5h1M46 477.5h2M70 477.5h2M96 477.5h2M136 477.5h1M148 477.5h2M216 477.5h3M222 477.5h2M240 477.5h5M298 477.5h1M306 477.5h11M407 477.5h1M423 477.5h1M443 477.5h1M453 477.5h2M476 477.5h4M626 477.5h1M42 478.5h4M72 478.5h1M95 478.5h1M136 478.5h1M146 478.5h2M219 478.5h3M299 478.5h1M302 478.5h4M408 478.5h1M422 478.5h1M444 478.5h9M627 478.5h1M27 479.5h5M38 479.5h4M73 479.5h1M93 479.5h2M137 479.5h1M144 479.5h2M300 479.5h2M409 479.5h1M422 479.5h1M628 479.5h1M24 480.5h3M32 480.5h6M74 480.5h2M91 480.5h2M138 480.5h1M143 480.5h1M410 480.5h1M421 480.5h1M629 480.5h1M760 480.5h8M11 481.5h5M22 481.5h2M76 481.5h2M88 481.5h3M139 481.5h1M141 481.5h2M411 481.5h1M416 481.5h5M630 481.5h1M755 481.5h5M768 481.5h5M8 482.5h3M16 482.5h6M78 482.5h4M86 482.5h2M140 482.5h1M412 482.5h4M631 482.5h1M753 482.5h2M773 482.5h1M867 482.5h2M6 483.5h2M82 483.5h4M632 483.5h1M751 483.5h2M774 483.5h2M865 483.5h2M4 484.5h2M633 484.5h1M749 484.5h2M776 484.5h1M863 484.5h2M634 485.5h1M746 485.5h3M777 485.5h1M800 485.5h5M861 485.5h2M635 486.5h1M640 486.5h5M724 486.5h2M742 486.5h4M778 486.5h2M795 486.5h5M805 486.5h2M860 486.5h1M636 487.5h4M645 487.5h2M722 487.5h2M726 487.5h2M738 487.5h4M780 487.5h2M792 487.5h3M807 487.5h2M858 487.5h2M647 488.5h2M720 488.5h2M728 488.5h3M734 488.5h4M782 488.5h4M790 488.5h2M809 488.5h2M856 488.5h2M649 489.5h2M719 489.5h1M731 489.5h3M786 489.5h4M811 489.5h2M855 489.5h1M651 490.5h3M690 490.5h6M717 490.5h2M813 490.5h2M853 490.5h2M654 491.5h4M686 491.5h4M696 491.5h8M712 491.5h5M815 491.5h2M848 491.5h5M658 492.5h4M682 492.5h4M704 492.5h8M817 492.5h2M843 492.5h5M662 493.5h4M678 493.5h4M819 493.5h5M840 493.5h3M666 494.5h12M824 494.5h8M838 494.5h2M832 495.5h6" stroke="#1e90ff" stroke-width="1" fill="none" shape-rendering="crispEdges"/>
<path d="M608 526.5h27M604 527.5h4M635 527.5h6M599 528.5h5M641 528.5h3M593 529.5h6M644 529.5h3M589 530.5h4M647 530.5h3M585 531.5h4M650 531.5h3M582 532.5h3M653 532.5h3M578 533.5h4M656 533.5h2M574 534.5h4M658 534.5h2M570 535.5h4M660 535.5h1M566 536.5h4M661 536.5h2M559 537.5h7M663 537.5h2M553 538.5h6M665 538.5h1M549 539.5h4M666 539.5h2M545 540.5h4M668 540.5h1M528 541.5h17M669 541.5h2M488 542.5h40M671 542.5h1M392 543.5h17M440 543.5h10M481 543.5h7M672 543.5h2M312 544.5h50M376 544.5h16M409 544.5h31M450 544.5h31M674 544.5h1M293 545.5h19M362 545.5h14M675 545.5h2M289 546.5h4M677 546.5h1M272 547.5h17M678 547.5h2M194 548.5h78M680 548.5h1M174 549.5h20M681 549.5h2M168 550.5h6M683 550.5h1M163 551.5h5M684 551.5h1M159 552.5h4M685 552.5h2M152 553.5h7M687 553.5h1M144 554.5h8M688 554.5h1M136 555.5h8M689 555.5h2M130 556.5h6M691 556.5h1M124 557.5h6M692 557.5h1M119 558.5h5M693 558.5h2M115 559.5h4M695 559.5h1M111 560.5h4M696 560.5h1M107 561.5h4M697 561.5h2M100 562.5h7M699 562.5h1M93 563.5h7M700 563.5h2M89 564.5h4M702 564.5h2M85 565.5h4M704 565.5h2M81 566.5h4M706 566.5h2M77 567.5h4M708 567.5h2M73 568.5h4M710 568.5h2M69 569.5h4M712 569.5h2M66 570.5h3M714 570.5h2M62 571.5h4M716 571.5h3M59 572.5h3M719 572.5h2M55 573.5h4M721 573.5h2M51 574.5h4M723 574.5h2M47 575.5h4M725 575.5h3M798 575.5h36M4 576.5h3M38 576.5h9M728 576.5h2M794 576.5h4M834 576.5h5M7 577.5h31M730 577.5h5M772 577.5h22M839 577.5h7M735 578.5h7M768 578.5h4M846 578.5h4M742 579.5h26M850 579.5h6M856 580.5h7M863 581.5h5" stroke="#ff0000" stroke-width="1" fill="none" shape-rendering="crispEdges"/>
<g fill="#000" shape-rendering="crispEdges"><rect x="3" y="32" width="1104" height="1"/><rect x="3" y="32" width="1" height="410"/><rect x="1106" y="32" width="1" height="410"/><rect x="3" y="441" width="1104" height="1"/><rect x="3" y="443" width="1104" height="1"/><rect x="3" y="443" width="1" height="75"/><rect x="1106" y="443" width="1" height="75"/><rect x="3" y="517" width="1104" height="1"/><rect x="3" y="519" width="1104" height="1"/><rect x="3" y="519" width="1" height="71"/><rect x="1106" y="519" width="1" height="71"/><rect x="3" y="589" width="1104" height="1"/><rect x="1107" y="42" width="2" height="1"/><rect x="1107" y="75" width="2" height="1"/><rect x="1107" y="108" width="2" height="1"/><rect x="1107" y="141" width="2" height="1"/><rect x="1107" y="174" width="2" height="1"/><rect x="1107" y="207" width="2" height="1"/><rect x="1107" y="240" width="2" height="1"/><rect x="1107" y="273" width="2" height="1"/><rect x="1107" y="306" width="2" height="1"/><rect x="1107" y="339" width="2" height="1"/><rect x="1107" y="372" width="2" height="1"/><rect x="1107" y="405" width="2" height="1"/><rect x="1107" y="438" width="2" height="1"/><rect x="1107" y="445" width="1" height="1"/><rect x="1107" y="516" width="1" height="1"/><rect x="1107" y="521" width="1" height="1"/><rect x="1107" y="561" width="1" height="1"/><rect x="1107" y="588" width="1" height="1"/><rect x="4" y="590" width="1" height="3"/><rect x="68" y="590" width="1" height="3"/><rect x="132" y="590" width="1" height="3"/><rect x="196" y="590" width="1" height="3"/><rect x="260" y="590" width="1" height="3"/><rect x="324" y="590" width="1" height="3"/><rect x="388" y="590" width="1" height="3"/><rect x="452" y="590" width="1" height="3"/><rect x="516" y="590" width="1" height="3"/><rect x="580" y="590" width="1" height="3"/><rect x="644" y="590" width="1" height="3"/><rect x="708" y="590" width="1" height="3"/><rect x="772" y="590" width="1" height="3"/><rect x="836" y="590" width="1" height="3"/></g>
<rect x="1108" y="240" width="41" height="11" fill="#000" shape-rendering="crispEdges"/><rect x="1106" y="245" width="1" height="1" fill="#fff" shape-rendering="crispEdges"/>
<path d="M7 39h7v1h-1v1h-1v1h-1v1h-1v-1h-1v-1h-1v-1h-1z" fill="#000" shape-rendering="crispEdges"/>
</svg>
<div class="t" style="left:19px;top:35px;transform:scaleX(.97)">USDCAD,Daily</div>
<div class="t" style="left:91px;top:35px">1.31754 1.32420 1.31746 1.32342</div>
<div class="t" style="left:8px;top:447px">RSI(14) 48.8079</div>
<div class="t" style="left:8px;top:523px">MACD(12,26,9) -0.005216 -0.005342</div>
<div class="t" style="left:1112px;top:37px">1.36870</div><div class="t" style="left:1112px;top:70px">1.36150</div><div class="t" style="left:1112px;top:103px">1.35410</div><div class="t" style="left:1112px;top:136px">1.34670</div><div class="t" style="left:1112px;top:169px">1.33930</div><div class="t" style="left:1112px;top:202px">1.33190</div><div class="t" style="left:1112px;top:268px">1.31730</div><div class="t" style="left:1112px;top:301px">1.30990</div><div class="t" style="left:1112px;top:334px">1.30250</div><div class="t" style="left:1112px;top:367px">1.29510</div><div class="t" style="left:1112px;top:400px">1.28790</div><div class="t" style="left:1112px;top:433px">1.28050</div><div class="t" style="left:1112px;top:235px;height:5px;overflow:hidden">1.32470</div><div class="t" style="left:1112px;top:240px;color:#fff">1.32342</div><div class="t" style="left:1110px;top:445px">100</div><div class="t" style="left:1110px;top:461px">70</div><div class="t" style="left:1110px;top:490px">30</div><div class="t" style="left:1110px;top:505px">0</div><div class="t" style="left:1110px;top:521px">0.010525</div><div class="t" style="left:1110px;top:556px">0.00</div><div class="t" style="left:1110px;top:577px">-0.0073</div>
<div class="t" style="left:3px;top:593px">4 Oct 2018</div><div class="t" style="left:67px;top:593px">13 Oct 2018</div><div class="t" style="left:131px;top:593px">23 Oct 2018</div><div class="t" style="left:195px;top:593px">1 Nov 2018</div><div class="t" style="left:259px;top:593px">10 Nov 2018</div><div class="t" style="left:323px;top:593px">20 Nov 2018</div><div class="t" style="left:387px;top:593px">29 Nov 2018</div><div class="t" style="left:451px;top:593px">8 Dec 2018</div><div class="t" style="left:515px;top:593px">18 Dec 2018</div><div class="t" style="left:579px;top:593px">27 Dec 2018</div><div class="t" style="left:643px;top:593px">5 Jan 2019</div><div class="t" style="left:707px;top:593px">15 Jan 2019</div><div class="t" style="left:771px;top:593px">24 Jan 2019</div><div class="t" style="left:835px;top:593px">2 Feb 2019</div>
</body></html>
